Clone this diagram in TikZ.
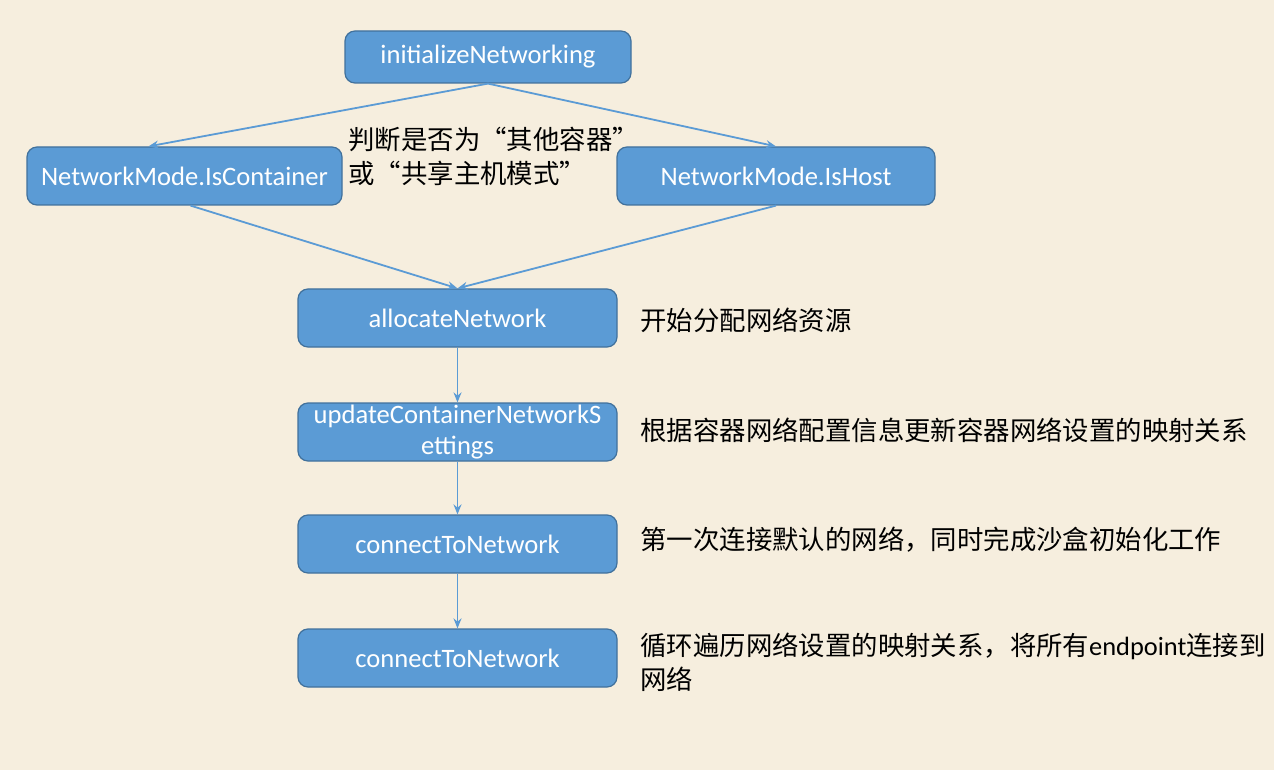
\documentclass[tikz,border=0pt]{standalone}
\usepackage{fontspec}
\setmainfont{Carlito}
\newfontfamily\cjk{Noto Sans CJK SC}
\usetikzlibrary{arrows.meta}
\definecolor{boxblue}{HTML}{5B9BD5}
\definecolor{boxedge}{HTML}{41719C}
\definecolor{paper}{HTML}{F6EEDE}
\tikzset{
  stepbox/.style={rectangle, rounded corners=5pt, draw=boxedge, line width=0.6pt, fill=boxblue,
    text=white, font=\fontsize{13.3}{15}\selectfont, align=center, inner sep=0pt},
  note/.style={anchor=west, inner sep=0pt, align=left, font=\cjk\fontsize{13.2}{17}\selectfont},
  flow/.style={draw=boxblue, line width=0.9pt, -{Stealth[length=5pt,width=4pt]}}
}
\begin{document}
\begin{tikzpicture}[x=0.5pt, y=-0.5pt]
        \fill[paper] (0,0) rectangle (1274,770);
        \useasboundingbox (0,0) rectangle (1274,770);

        \node[stepbox, minimum width=143pt, minimum height=26pt] (init) at (488, 57) {initializeNetworking};
        \node[stepbox, minimum width=157.5pt, minimum height=29pt] (cont) at (184.5, 176) {NetworkMode.IsContainer};
        \node[stepbox, minimum width=159pt, minimum height=29pt] (host) at (776, 176) {NetworkMode.IsHost};
        \node[stepbox, minimum width=159.5pt, minimum height=29pt] (alloc) at (457.5, 318) {allocateNetwork};
        \node[stepbox, minimum width=159.5pt, minimum height=29pt, font=\fontsize{13.3}{15.5}\selectfont] (update) at (457.5, 432) {updateContainerNetworkS\\ettings};
        \node[stepbox, minimum width=159.5pt, minimum height=29pt] (conn) at (457.5, 544) {connectToNetwork};
        \node[stepbox, minimum width=159.5pt, minimum height=29pt] (loop) at (457.5, 658) {connectToNetwork};

        \draw[flow] (init.south) -- ([xshift=-18pt]cont.north);
        \draw[flow] (init.south) -- (host.north);
        \draw[flow] ([xshift=3pt]cont.south) -- (alloc.north);
        \draw[flow] (host.south) -- (alloc.north);
        \draw[flow] (alloc) -- (update);
        \draw[flow] (update) -- (conn);
        \draw[flow] (conn) -- (loop);

        \node[note, anchor=north west] (mode) at (348, 127) {判断是否为“其他容器”\\或“共享主机模式”};
        \node[note] (n1) at (640, 320) {开始分配网络资源};
        \node[note] (n2) at (640, 430) {根据容器网络配置信息更新容器网络设置的映射关系};
        \node[note] (n3) at (640, 540) {第一次连接默认的网络，同时完成沙盒初始化工作};
        \node[note, anchor=north west] (n4) at (640, 633) {循环遍历网络设置的映射关系，将所有{\rmfamily endpoint}连接到\\网络};

    \end{tikzpicture}
\end{document}
